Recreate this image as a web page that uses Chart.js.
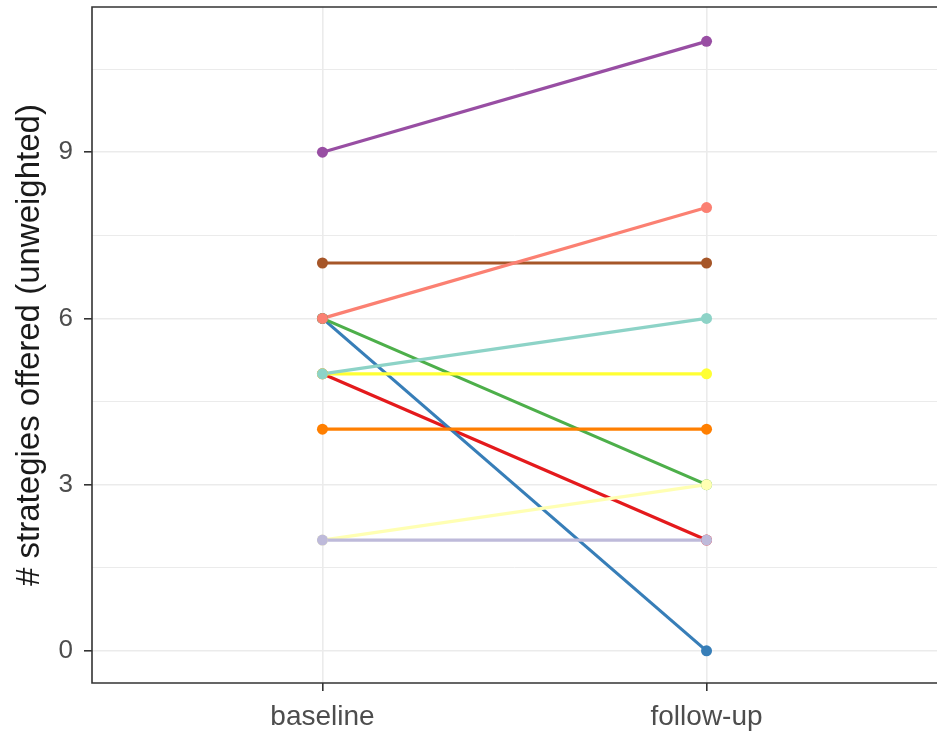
<!DOCTYPE html>
<html>
<head>
<meta charset="utf-8">
<script src="https://cdn.jsdelivr.net/npm/chart.js@4/dist/chart.umd.min.js"></script>
<style>
  body { margin: 0; background: #ffffff; }
  canvas { display: block; }
</style>
</head>
<body>
<canvas id="chart" width="937" height="731"></canvas>
<script>
const categories = ["baseline", "follow-up"];

// one small array per line: [baseline, follow-up]
const red = [5, 2];
const blue = [6, 0];
const green = [6, 3];
const purple = [9, 11];
const orange = [4, 4];
const yellow = [5, 5];
const brown = [7, 7];
const teal = [5, 6];
const paleYellow = [2, 3];
const lavender = [2, 2];
const salmon = [6, 8];

const yTicks = [0, 3, 6, 9];
const yMinorTicks = [1.5, 4.5, 7.5, 10.5];

// draw order as in the original (first drawn lowest)
const series = [
    { values: red, color: "#E41A1C" },
    { values: blue, color: "#377EB8" },
    { values: green, color: "#4DAF4A" },
    { values: purple, color: "#984EA3" },
    { values: orange, color: "#FF7F00" },
    { values: yellow, color: "#FFFF33" },
    { values: brown, color: "#A65628" },
    { values: teal, color: "#8DD3C7" },
    { values: paleYellow, color: "#FFFFB3" },
    { values: lavender, color: "#BEBADA" },
    { values: salmon, color: "#FB8072" },
];

const toPoints = (values) => values.map((v, i) => ({ x: i + 1, y: v }));

// chart.js draws lower index on top, so reverse
const lineSets = series.map((s) => ({
    data: toPoints(s.values),
    showLine: true,
    borderColor: s.color,
    borderWidth: 3.2,
    pointRadius: 0,
    order: 1,
})).reverse();

const pointSets = series.map((s) => ({
    data: toPoints(s.values),
    showLine: false,
    backgroundColor: s.color,
    borderWidth: 0,
    pointRadius: 5.5,
    order: 0,
})).reverse();

const panelBorder = {
    id: "panelBorder",
    afterDraw(chart) {
        const { ctx, chartArea } = chart;
        ctx.save();
        ctx.strokeStyle = "#333333";
        ctx.lineWidth = 1.6;
        ctx.beginPath();
        ctx.moveTo(chart.width, chartArea.top);
        ctx.lineTo(chartArea.left, chartArea.top);
        ctx.lineTo(chartArea.left, chartArea.bottom);
        ctx.lineTo(chart.width, chartArea.bottom);
        ctx.stroke();
        ctx.restore();
    },
};

const isMajor = (v) => yTicks.includes(v);

new Chart(document.getElementById("chart"), {
    type: "scatter",
    data: { datasets: [...pointSets, ...lineSets] },
    options: {
        responsive: false,
        animation: false,
        layout: { autoPadding: false, padding: { top: 7, right: 0, left: 0, bottom: 0 } },
        plugins: {
            legend: { display: false },
            tooltip: { enabled: false },
        },
        scales: {
            x: {
                type: "linear",
                min: 0.4,
                max: 2.6,
                afterBuildTicks: (scale) => {
                    scale.ticks = categories.map((c, i) => ({ value: i + 1 }));
                },
                afterFit: (scale) => {
                    scale.height = 48;
                    scale.paddingLeft = 0;
                    scale.paddingRight = 0;
                },
                border: { display: false },
                grid: {
                    color: "#ebebeb",
                    lineWidth: 1.6,
                    tickColor: "#333333",
                    tickWidth: 1.6,
                    tickLength: 8,
                },
                ticks: {
                    padding: 9,
                    color: "#4d4d4d",
                    font: { family: "Liberation Sans, Arial", size: 28 },
                    callback: (v) => categories[v - 1],
                    maxRotation: 0,
                },
            },
            y: {
                type: "linear",
                min: -0.58,
                max: 11.62,
                afterBuildTicks: (scale) => {
                    scale.ticks = [...yTicks, ...yMinorTicks]
                        .sort((a, b) => a - b)
                        .map((v) => ({ value: v }));
                },
                afterFit: (scale) => {
                    scale.width = 92;
                    scale.paddingTop = 0;
                    scale.paddingBottom = 0;
                },
                border: { display: false },
                grid: {
                    color: "#ebebeb",
                    lineWidth: (c) => (c.tick && isMajor(c.tick.value) ? 1.6 : 1),
                    tickColor: (c) => (c.tick && isMajor(c.tick.value) ? "#333333" : "rgba(0,0,0,0)"),
                    tickWidth: 1.6,
                    tickLength: 8,
                },
                ticks: {
                    padding: 11,
                    color: "#4d4d4d",
                    font: { family: "Liberation Sans, Arial", size: 26 },
                    callback: (v) => (isMajor(v) ? String(v) : ""),
                },
                title: {
                    display: true,
                    text: "# strategies offered (unweighted)",
                    color: "#1a1a1a",
                    font: { family: "Liberation Sans, Arial", size: 33 },
                    padding: { top: 10, bottom: 0 },
                },
            },
        },
    },
    plugins: [panelBorder],
});
</script>
</body>
</html>
